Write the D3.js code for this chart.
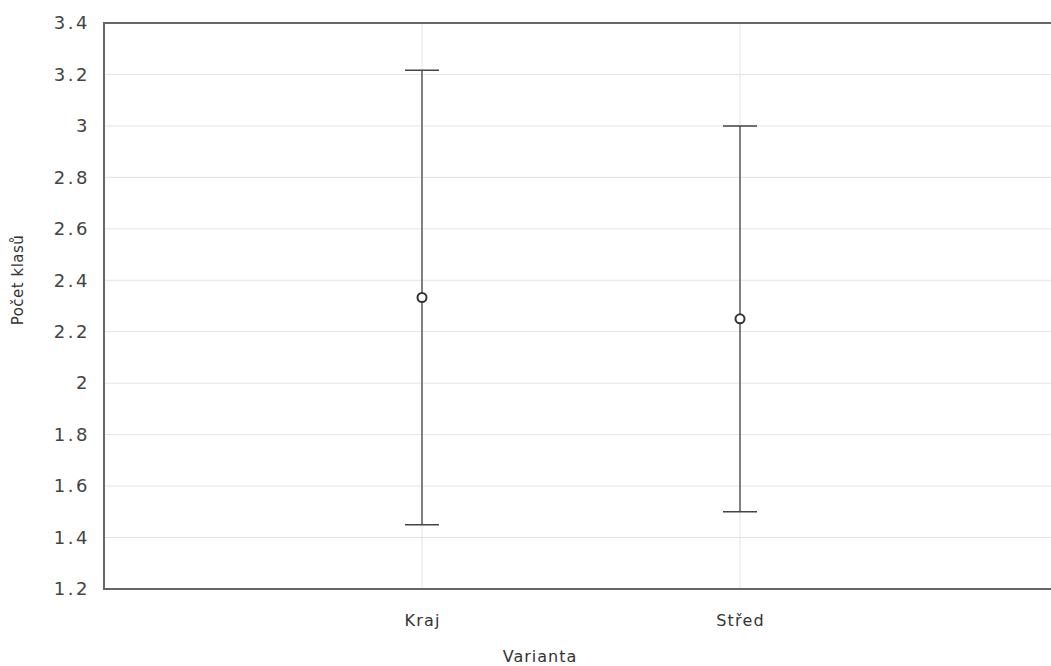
<!DOCTYPE html>
<html><head><meta charset="utf-8">
<script src="https://cdn.jsdelivr.net/npm/d3@7"></script>
<style>body{margin:0;background:#fff}svg{display:block}</style>
</head><body>
<script>
const categories = ["Kraj", "Střed"];
const means = [2.333, 2.25];
const upper = [3.216, 3.0];
const lower = [1.45, 1.5];
const yTicks = [1.2, 1.4, 1.6, 1.8, 2, 2.2, 2.4, 2.6, 2.8, 3, 3.2, 3.4];
const yLabel = "Počet klasů";
const xLabel = "Varianta";

(function(){
const W = 1051, H = 666;
const svg = d3.select("body").append("svg").attr("width", W).attr("height", H);
const pLeft = 104, pTop = 23, pBottom = 589, pRight = 1058;
const y = d3.scaleLinear().domain([1.2, 3.4]).range([pBottom, pTop]);
const x = d3.scaleLinear().domain([0, categories.length + 1]).range([pLeft, pRight]);
const font = "DejaVu Sans, Verdana, sans-serif";

// grid
svg.append("g").selectAll("line").data(yTicks).join("line")
  .attr("x1", pLeft).attr("x2", W).attr("y1", d => y(d)).attr("y2", d => y(d))
  .attr("stroke", "#e3e3e3").attr("stroke-width", 1);
svg.append("g").selectAll("line").data(categories).join("line")
  .attr("x1", (d,i) => x(i+1)).attr("x2", (d,i) => x(i+1)).attr("y1", pTop).attr("y2", pBottom)
  .attr("stroke", "#e3e3e3").attr("stroke-width", 1);

// axes
const yAxis = d3.axisLeft(y).tickValues(yTicks).tickSize(0).tickPadding(14).tickFormat(d => String(d));
const gy = svg.append("g").attr("transform", `translate(${pLeft},0)`).call(yAxis);
gy.select(".domain").remove();
gy.selectAll("text").attr("font-family", font).attr("font-size", 18).attr("letter-spacing", 2.5).attr("fill", "#444");

const xAxis = d3.axisBottom(x).tickValues(categories.map((d,i) => i+1)).tickSize(0).tickPadding(26)
  .tickFormat(d => categories[d-1]);
const gx = svg.append("g").attr("transform", `translate(0,${pBottom})`).call(xAxis);
gx.select(".domain").remove();
gx.selectAll("text").attr("font-family", font).attr("font-size", 16).attr("letter-spacing", 1.2).attr("fill", "#333");

// frame
svg.append("line").attr("x1", pLeft).attr("x2", W).attr("y1", pTop).attr("y2", pTop).attr("stroke", "#666").attr("stroke-width", 2);
svg.append("line").attr("x1", pLeft).attr("x2", W).attr("y1", pBottom).attr("y2", pBottom).attr("stroke", "#666").attr("stroke-width", 2);
svg.append("line").attr("x1", pLeft).attr("x2", pLeft).attr("y1", pTop-1).attr("y2", pBottom+1).attr("stroke", "#666").attr("stroke-width", 2);

// error bars
const g = svg.append("g");
categories.forEach((c, i) => {
  const cx = x(i+1);
  g.append("line").attr("x1", cx).attr("x2", cx).attr("y1", y(upper[i])).attr("y2", y(lower[i])).attr("stroke", "#444").attr("stroke-width", 1.3);
  [upper[i], lower[i]].forEach(v => {
    g.append("line").attr("x1", cx-17).attr("x2", cx+17).attr("y1", y(v)).attr("y2", y(v)).attr("stroke", "#444").attr("stroke-width", 1.5);
  });
  g.append("circle").attr("cx", cx).attr("cy", y(means[i])).attr("r", 4.5).attr("fill", "#fff").attr("stroke", "#333").attr("stroke-width", 2);
});

// titles
svg.append("text").attr("x", 540).attr("y", 662).attr("text-anchor", "middle")
  .attr("font-family", font).attr("font-size", 16).attr("letter-spacing", 1).attr("fill", "#333").text(xLabel);
svg.append("text").attr("transform", "translate(23,280) rotate(-90)").attr("text-anchor", "middle")
  .attr("font-family", font).attr("font-size", 15).attr("letter-spacing", 0.5).attr("fill", "#333").text(yLabel);
})();
</script>
</body></html>
